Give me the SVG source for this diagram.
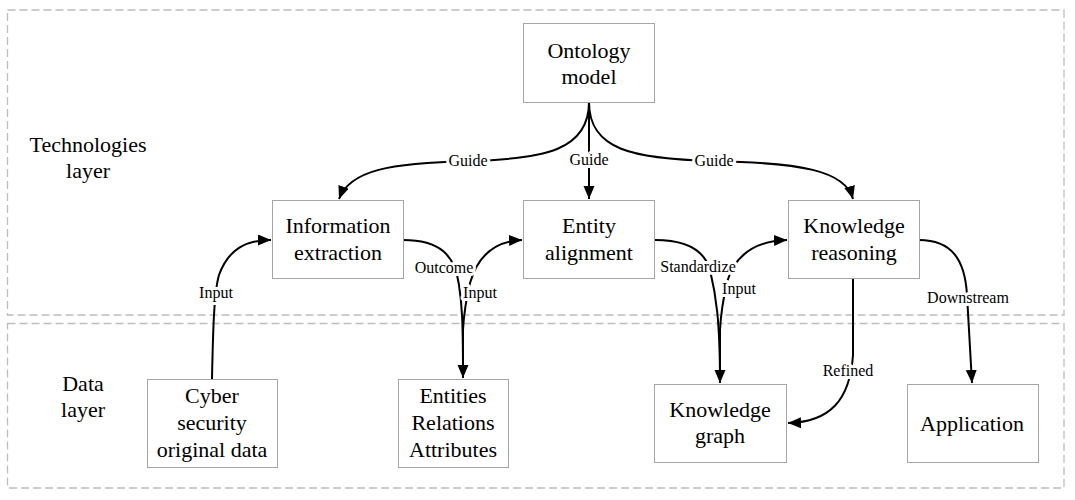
<svg xmlns="http://www.w3.org/2000/svg" width="1075" height="500" viewBox="0 0 1075 500" font-family="'Liberation Serif', 'Times New Roman', Tinos, 'DejaVu Serif', serif">
<style>
.layer{fill:none;stroke:#bdbdbd;stroke-width:1.3;stroke-dasharray:8 4}
.box{fill:#fff;stroke:#a6a6a6;stroke-width:1}
.t{font-size:22px;fill:#000;text-anchor:middle}
.lbl{font-size:16px;fill:#000;text-anchor:middle;stroke:#fff;stroke-width:6;paint-order:stroke;stroke-linejoin:round}
.c{fill:none;stroke:#000;stroke-width:2}
</style>
<defs>
<marker id="arr" markerUnits="userSpaceOnUse" markerWidth="14" markerHeight="12" refX="13" refY="5.5" orient="auto">
<path d="M0,0 L13,5.5 L0,11 z" fill="#000"/>
</marker>
</defs>
<rect width="1075" height="500" fill="#fff"/>
<g id="layers">
<rect class="layer" x="7.5" y="10" width="1056.5" height="305"/>
<rect class="layer" x="7.5" y="323.5" width="1056.5" height="164.5"/>
<text class="t" x="88" y="152">Technologies</text>
<text class="t" x="88" y="178">layer</text>
<text class="t" x="83" y="391">Data</text>
<text class="t" x="83" y="417">layer</text>
</g>
<g id="connectors">
<path class="c" d="M589,102 C589,150 545,159 470,161 C390,163 350,170 339,199" marker-end="url(#arr)"/>
<path class="c" d="M589,102 C589,150 633,159 714,161 C800,163 845,170 853,199" marker-end="url(#arr)"/>
<path class="c" d="M589,102 L589,199" marker-end="url(#arr)"/>
<path class="c" d="M212,379 C213,330 214,292 219,275 C228,250 245,240 271,240" marker-end="url(#arr)"/>
<path class="c" d="M403,240 C440,240 455,255 459,285 C462,305 463,320 463,378" marker-end="url(#arr)"/>
<path class="c" d="M463,378 L463,330 C464,310 466,300 470,283 C478,255 495,241 522,240" marker-end="url(#arr)"/>
<path class="c" d="M655,240 C690,240 705,252 710,270 C716,295 720,320 720,383" marker-end="url(#arr)"/>
<path class="c" d="M720,383 L720,330 C721,310 723,300 727,282 C735,255 755,241 787,240" marker-end="url(#arr)"/>
<path class="c" d="M853,279 L853,355 C850,400 830,422 788,423" marker-end="url(#arr)"/>
<path class="c" d="M919,240 C952,240 965,260 967,295 L972,383" marker-end="url(#arr)"/>
<text class="lbl" x="468" y="166">Guide</text>
<text class="lbl" x="589" y="165">Guide</text>
<text class="lbl" x="714" y="166">Guide</text>
<text class="lbl" x="216" y="298">Input</text>
<text class="lbl" x="444" y="273">Outcome</text>
<text class="lbl" x="480" y="298">Input</text>
<text class="lbl" x="698" y="272">Standardize</text>
<text class="lbl" x="739" y="294">Input</text>
<text class="lbl" x="848" y="376">Refined</text>
<text class="lbl" x="968" y="303">Downstream</text>
</g>
<g id="ontology">
<rect class="box" x="523.5" y="23.5" width="131" height="79"/>
<text class="t" x="589" y="58">Ontology</text>
<text class="t" x="589" y="84">model</text>
</g>
<g id="info-extraction">
<rect class="box" x="272.5" y="200.5" width="131" height="78"/>
<text class="t" x="338" y="233">Information</text>
<text class="t" x="338" y="260">extraction</text>
</g>
<g id="entity-alignment">
<rect class="box" x="523.5" y="200.5" width="131" height="78"/>
<text class="t" x="589" y="233">Entity</text>
<text class="t" x="589" y="260">alignment</text>
</g>
<g id="knowledge-reasoning">
<rect class="box" x="788.5" y="200.5" width="131" height="78"/>
<text class="t" x="854" y="233">Knowledge</text>
<text class="t" x="854" y="260">reasoning</text>
</g>
<g id="cyber-data">
<rect class="box" x="147.5" y="379.5" width="130" height="88"/>
<text class="t" x="212" y="403">Cyber</text>
<text class="t" x="212" y="430">security</text>
<text class="t" x="212" y="457">original data</text>
</g>
<g id="entities">
<rect class="box" x="398.5" y="379.5" width="110" height="88"/>
<text class="t" x="453" y="403">Entities</text>
<text class="t" x="453" y="430">Relations</text>
<text class="t" x="453" y="457">Attributes</text>
</g>
<g id="knowledge-graph">
<rect class="box" x="654.5" y="384.5" width="132" height="78"/>
<text class="t" x="720" y="417">Knowledge</text>
<text class="t" x="720" y="443">graph</text>
</g>
<g id="application">
<rect class="box" x="907.5" y="384.5" width="131" height="78"/>
<text class="t" x="972" y="431">Application</text>
</g>
</svg>
